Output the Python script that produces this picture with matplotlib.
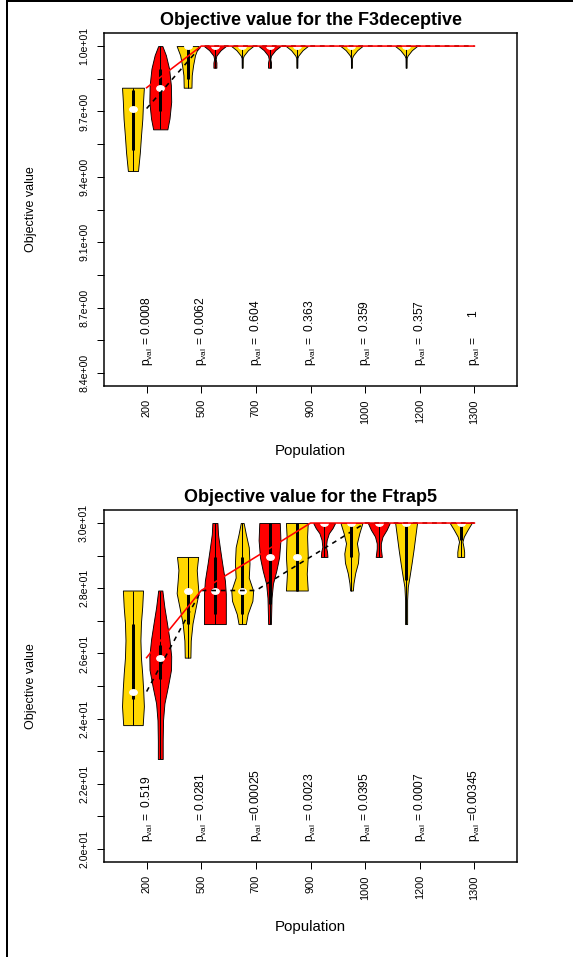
import numpy as np
import matplotlib.pyplot as plt
from matplotlib.path import Path
from matplotlib.lines import Line2D
from matplotlib.transforms import Affine2D, blended_transform_factory

plt.rcParams['font.family'] = 'Liberation Sans'
plt.rcParams['mathtext.fontset'] = 'custom'
plt.rcParams['mathtext.rm'] = 'Liberation Sans'
plt.rcParams['mathtext.it'] = 'Liberation Sans:italic'

populations = ['200', '500', '700', '900', '1000', '1200', '1300']
fill_colours = ['#FFD700', '#FF0000']   # yellow / red alternate within each population

# ---- F3deceptive: 14 violins, yellow/red pairs per population ----
f3_min = [9.40, 9.60, 9.80, 9.896, 9.896, 9.896, 9.896, 10, 9.896, 10, 9.896, 10, 10, 10]
f3_max = [9.80, 10, 10, 10, 10, 10, 10, 10, 10, 10, 10, 10, 10, 10]
f3_median = [9.70, 9.80, 10, 10, 10, 10, 10, 10, 10, 10, 10, 10, 10, 10]
f3_q1 = [9.50, 9.69, 9.84, 10, 10, 10, 10, 10, 10, 10, 10, 10, 10, 10]
f3_q3 = [9.79, 9.89, 10, 10, 10, 10, 10, 10, 10, 10, 10, 10, 10, 10]
y_stem = [(0, 0.5), (0.45, 0.6), (0.56, 1.5), (0.81, 5.8), (1, 11)]
r_stem = [(0, 1.5), (0.24, 1.5), (0.4, 0.8), (0.56, 1.5), (0.81, 5.8), (1, 11)]
f3_shape = [
    [(0, 5), (0.22, 6.8), (0.43, 8), (0.63, 9.3), (0.84, 10), (1, 10.8)],
    [(0, 6.7), (0.13, 8.7), (0.33, 10.3), (0.53, 10), (0.73, 8.3), (0.89, 5.3), (1, 2)],
    [(0, 4), (0.3, 4.3), (0.54, 5.7), (0.78, 7.7), (1, 11.3)],
    r_stem, y_stem, r_stem, y_stem, None, y_stem, None, y_stem, None, None, None,
]
f3_pvals = ['0.0008', '0.0062', '0.604', '0.363', '0.359', '0.357', '1']
f3_yticks = np.linspace(8.43, 10.0, 11)

# ---- Ftrap5 ----
tr_min = [23.8, 22.76, 25.87, 26.9, 26.9, 26.9, 27.93, 28.96, 27.93, 28.96, 26.9, 30, 28.96, 30]
tr_max = [27.93, 27.93, 28.96, 30, 30, 30, 30, 30, 30, 30, 30, 30, 30, 30]
tr_median = [24.83, 25.87, 27.93, 27.93, 27.93, 28.96, 28.96, 30, 30, 30, 30, 30, 30, 30]
tr_q1 = [24.61, 25.22, 26.9, 27.22, 27.22, 27.52, 27.93, 30, 28.96, 30, 28.24, 30, 29.47, 30]
tr_q3 = [26.9, 26.25, 27.93, 28.96, 28.96, 30, 30, 30, 30, 30, 30, 30, 30, 30]
tr_shape = [
    [(0, 30), (0.14, 33.6), (0.26, 31.5), (0.38, 28.5), (0.5, 24.6), (0.63, 23), (0.76, 24.6), (0.88, 28.5), (1, 31)],
    [(0, 7), (0.11, 7), (0.23, 8), (0.33, 12), (0.43, 22), (0.53, 31), (0.61, 31.5), (0.71, 26.5), (0.81, 19), (0.9, 12), (1, 6)],
    [(0, 8), (0.17, 9), (0.34, 14), (0.5, 23), (0.64, 31), (0.77, 28), (0.87, 26), (1, 30)],
    [(0, 30), (0.17, 30), (0.3, 30), (0.43, 27.5), (0.6, 20), (0.76, 13.5), (0.89, 8.5), (1, 7)],
    [(0, 10), (0.1, 15), (0.23, 28), (0.33, 30), (0.46, 18), (0.6, 20), (0.76, 18), (0.89, 10), (1, 4)],
    [(0, 4), (0.13, 5), (0.26, 6), (0.4, 10), (0.53, 20), (0.66, 28), (0.83, 32), (1, 30)],
    [(0, 32), (0.25, 29), (0.5, 32), (0.8, 30), (1, 32)],
    [(0, 9), (0.15, 8), (0.3, 5), (0.5, 7), (0.7, 13), (0.85, 23), (1, 30)],
    [(0, 4), (0.11, 6), (0.26, 11), (0.41, 19), (0.55, 21), (0.7, 16), (0.85, 23), (1, 32)],
    [(0, 9), (0.25, 6), (0.4, 6), (0.6, 11), (0.8, 23), (1, 32)],
    [(0, 3), (0.24, 3), (0.37, 5), (0.47, 10), (0.6, 16), (0.74, 22), (0.87, 27), (1, 32)],
    None,
    [(0, 10), (0.15, 10), (0.3, 8), (0.45, 5), (0.6, 9), (0.8, 20), (1, 32)],
    None,
]
tr_pvals = ['0.519', '0.0281', '0.00025', '0.0023', '0.0395', '0.0007', '0.00345']
tr_yticks = np.arange(20, 31, 1.0)

# slightly flattened dot for the medians
dot = Path(Affine2D().scale(1.0, 0.75).transform(Path.unit_circle().vertices),
           Path.unit_circle().codes)


def draw_panel(ax, title, vmin, vmax, med, q1, q3, shapes, pvals, yticks):
    vmin, vmax, med = np.array(vmin), np.array(vmax), np.array(med)
    q1, q3 = np.array(q1), np.array(q3)
    pos = np.arange(1, 15)
    keep = [i for i in range(14) if shapes[i] is not None]

    stats = []
    for i in keep:
        fr, w = np.array(shapes[i], dtype=float).T
        stats.append(dict(coords=vmin[i] + fr * (vmax[i] - vmin[i]), vals=w,
                          mean=med[i], median=med[i], min=vmin[i], max=vmax[i]))
    parts = ax.violin(stats, positions=pos[keep], widths=0.8, showextrema=False)
    for body, i in zip(parts['bodies'], keep):
        body.set_facecolor(fill_colours[i % 2])
        body.set_edgecolor('black')
        body.set_linewidth(0.9)
        body.set_alpha(1)
        body.set_zorder(1)

    ax.vlines(pos[keep], vmin[keep], vmax[keep], color='black', lw=1, zorder=2)
    ax.vlines(pos[keep], q1[keep], q3[keep], color='black', lw=3, zorder=2)
    ax.scatter(pos[keep], med[keep], marker=dot, s=60, color='white', zorder=3)

    # median trend per variant, drawn at the population tick
    xt = pos[0::2] + 0.5
    ax.plot(xt, med[0::2], color='black', lw=1.6, dashes=(3, 3), zorder=4)
    ax.plot(xt, med[1::2], color='red', lw=1.6, zorder=5)

    trans = blended_transform_factory(ax.transData, ax.transAxes)
    for x, p in zip(xt, pvals):
        ax.text(x, 0.057, r'$\mathrm{p}_{\mathrm{val}}$ =' + p.rjust(7), transform=trans,
                rotation=90, ha='center', va='bottom', fontsize=12)

    ax.set_xlim(-0.06, 15.06)
    lo, hi = yticks[0], yticks[-1]
    ax.set_ylim(lo - 0.04 * (hi - lo), hi + 0.04 * (hi - lo))
    ax.set_xticks(xt, populations, rotation=90, fontsize=11, va='top', ha='center')
    major = yticks[0::2]
    ax.set_yticks(major, [f'{v:.1e}' for v in major], rotation=90, va='center', fontsize=10.5)
    ax.set_yticks(yticks[1::2], minor=True)
    ax.tick_params(axis='both', which='both', direction='out', length=7, width=1)
    ax.tick_params(axis='y', pad=8)
    ax.tick_params(axis='x', pad=6)
    for s in ax.spines.values():
        s.set_linewidth(1.5)

    ax.set_title(title, fontsize=18, fontweight='bold', pad=8.5)
    ax.set_ylabel('Objective value', fontsize=12.5, va='center')
    ax.yaxis.set_label_coords(-0.177, 0.5)
    ax.set_xlabel('Population', fontsize=15, va='center')
    ax.xaxis.set_label_coords(0.5, -0.185)


fig = plt.figure(figsize=(573 / 72, 957 / 72), dpi=72)
ax1 = fig.add_axes([104 / 573, 1 - 386 / 957, 413 / 573, 353 / 957])
ax2 = fig.add_axes([104 / 573, 1 - 862 / 957, 413 / 573, 352 / 957])

draw_panel(ax1, 'Objective value for the F3deceptive', f3_min, f3_max, f3_median,
           f3_q1, f3_q3, f3_shape, f3_pvals, f3_yticks)
draw_panel(ax2, 'Objective value for the Ftrap5', tr_min, tr_max, tr_median,
           tr_q1, tr_q3, tr_shape, tr_pvals, tr_yticks)

# page frame (left and top edges)
fig.add_artist(Line2D([6.5 / 573, 6.5 / 573], [0, 1 - 1 / 957], color='black', lw=2))
fig.add_artist(Line2D([6.5 / 573, 1], [1 - 1 / 957, 1 - 1 / 957], color='black', lw=2))

fig.savefig('out.png', dpi=72)
